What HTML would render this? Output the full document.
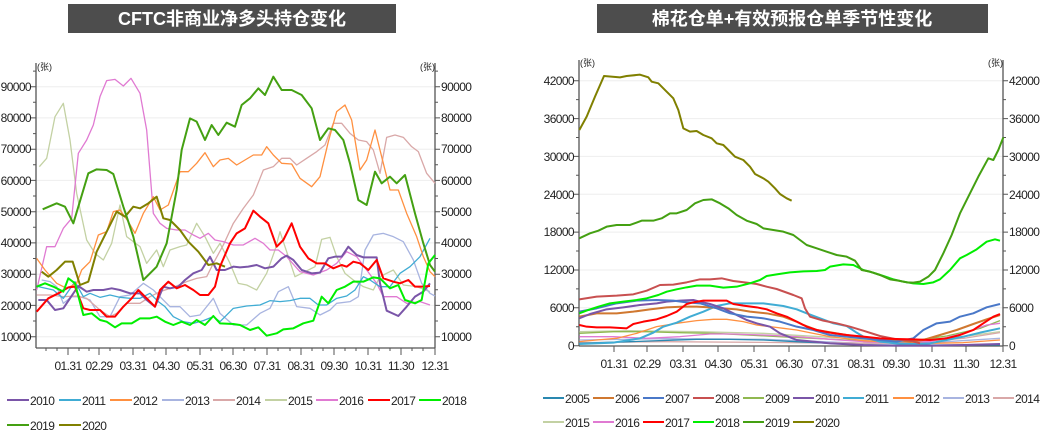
<!DOCTYPE html>
<html><head><meta charset="utf-8"><style>
body{margin:0;background:#fff;width:1043px;height:437px;overflow:hidden}
svg{display:block}
text{font-family:"Liberation Sans","Noto Sans CJK SC",sans-serif;fill:#222}
.t{font-size:12px;letter-spacing:-0.6px}
.g polyline{fill:none;vector-effect:non-scaling-stroke;stroke-linejoin:round;stroke-width:1.3}
.thick{stroke-width:2!important}
</style></head><body>
<svg width="1043" height="437" viewBox="0 0 1043 437">
<!-- titles -->
<rect x="68" y="4" width="328" height="29" fill="#4d4d4d"/>
<text x="232" y="25" text-anchor="middle" style="fill:#fff;font-weight:bold;font-size:18px">CFTC非商业净多头持仓变化</text>
<rect x="597" y="4" width="391" height="29" fill="#4d4d4d"/>
<text x="792" y="25" text-anchor="middle" style="fill:#fff;font-weight:bold;font-size:18px">棉花仓单+有效预报仓单季节性变化</text>

<!-- LEFT CHART -->
<g stroke="#eee" stroke-width="1">
<line x1="36" x2="435" y1="86.7" y2="86.7"/><line x1="36" x2="435" y1="117.9" y2="117.9"/><line x1="36" x2="435" y1="149.2" y2="149.2"/><line x1="36" x2="435" y1="180.4" y2="180.4"/><line x1="36" x2="435" y1="211.7" y2="211.7"/><line x1="36" x2="435" y1="242.9" y2="242.9"/><line x1="36" x2="435" y1="274.2" y2="274.2"/><line x1="36" x2="435" y1="305.4" y2="305.4"/><line x1="36" x2="435" y1="336.7" y2="336.7"/>
</g>
<g stroke="#555" stroke-width="1.3">
<line x1="36" y1="63" x2="36" y2="348"/><line x1="435" y1="63" x2="435" y2="348"/><line x1="36" y1="348" x2="435" y2="348"/>
</g>
<g stroke="#555" stroke-width="1">
<path d="M31 86.7h5M31 117.9h5M31 149.2h5M31 180.4h5M31 211.7h5M31 242.9h5M31 274.2h5M31 305.4h5M31 336.7h5"/>
<path d="M435 86.7h5M435 117.9h5M435 149.2h5M435 180.4h5M435 211.7h5M435 242.9h5M435 274.2h5M435 305.4h5M435 336.7h5"/>
<path d="M68 348v7M99 348v7M133 348v7M166 348v7M200 348v7M233 348v7M267 348v7M301 348v7M334 348v7M368 348v7M401 348v7M435 348v7"/>
<path d="M46 348v3M57 348v3M79 348v3M89 348v3M110 348v3M121 348v3M144 348v3M155 348v3M177 348v3M188 348v3M211 348v3M222 348v3M244 348v3M255 348v3M278 348v3M290 348v3M312 348v3M323 348v3M345 348v3M356 348v3M379 348v3M390 348v3M412 348v3M423 348v3"/>
<path d="M36 71.1h-3M36 102.3h-3M36 133.6h-3M36 164.8h-3M36 196h-3M36 227.3h-3M36 258.5h-3M36 289.8h-3M36 321h-3M435 71.1h3M435 102.3h3M435 133.6h3M435 164.8h3M435 196h3M435 227.3h3M435 258.5h3M435 289.8h3M435 321h3"/>
</g>
<g class="t" text-anchor="end">
<text x="31" y="91">90000</text><text x="31" y="122">80000</text><text x="31" y="153">70000</text><text x="31" y="185">60000</text><text x="31" y="216">50000</text><text x="31" y="247">40000</text><text x="31" y="278">30000</text><text x="31" y="310">20000</text><text x="31" y="341">10000</text>
</g>
<g class="t">
<text x="441" y="91">90000</text><text x="441" y="122">80000</text><text x="441" y="153">70000</text><text x="441" y="185">60000</text><text x="441" y="216">50000</text><text x="441" y="247">40000</text><text x="441" y="278">30000</text><text x="441" y="310">20000</text><text x="441" y="341">10000</text>
</g>
<text x="37" y="70" style="font-size:9px">(张)</text><text x="420" y="70" style="font-size:9px">(张)</text>
<g class="t" text-anchor="middle">
<text x="68" y="370">01.31</text><text x="99" y="370">02.29</text><text x="133" y="370">03.31</text><text x="166" y="370">04.30</text><text x="200" y="370">05.31</text><text x="233" y="370">06.30</text><text x="267" y="370">07.31</text><text x="301" y="370">08.31</text><text x="334" y="370">09.30</text><text x="368" y="370">10.31</text><text x="401" y="370">11.30</text><text x="435" y="370">12.31</text>
</g>
<g class="g" transform="translate(0,50) scale(0.33333)">
<polyline stroke="#c3d1a3" points="118,350 140,325 165,200 190,160 210,270 230,430 260,570 285,610 310,630 335,580 360,465 380,560 420,590 440,640 470,600 490,650 510,600 540,590 560,585 590,520 615,560 640,610 660,580 690,640 715,700 740,705 770,720 800,670 825,600 840,545 855,590 885,680 915,665 945,650 965,568 990,562 1010,620 1035,670 1060,690 1090,710 1120,720 1140,680 1180,660 1210,705 1250,710 1290,725"/>
<polyline stroke="#a8b4e0" points="125,690 150,695 170,710 190,760 215,740 240,740 270,750 300,800 330,800 360,740 390,735 430,700 460,720 480,740 510,770 540,770 570,800 600,795 640,745 660,790 700,825 740,825 780,790 810,775 835,725 865,710 890,770 930,775 960,795 990,780 1010,760 1050,755 1075,740 1095,600 1120,555 1150,550 1180,560 1210,575 1240,630 1265,700 1290,730 1305,738"/>
<polyline stroke="#d9a8a8" points="110,735 150,735 190,740 230,738 260,745 300,780 330,800 350,790 380,760 420,760 450,740 480,725 520,712 560,695 590,685 620,680 640,640 670,585 700,520 730,475 760,435 790,360 820,350 845,325 870,325 890,345 920,325 950,305 975,285 1000,220 1025,220 1050,250 1075,270 1100,275 1120,300 1140,370 1160,262 1185,255 1210,262 1235,290 1255,305 1280,370 1305,400"/>
<polyline stroke="#e07ad2" points="110,720 140,590 165,590 190,535 215,505 235,310 260,270 280,225 300,140 320,92 345,88 370,108 393,85 420,130 440,240 460,490 480,520 500,535 530,540 555,540 580,555 600,565 625,550 645,570 670,575 700,585 730,585 765,565 790,580 810,600 835,600 860,620 900,665 940,675 980,660 1010,640 1040,605 1070,620 1100,660 1130,700 1150,740 1190,740 1220,760 1260,755 1290,765"/>
<polyline stroke="#40acd4" points="115,710 160,720 190,745 225,695 250,740 270,730 300,742 330,735 360,742 390,745 420,745 450,730 475,755 495,770 520,800 550,815 580,820 610,812 640,800 660,815 700,775 740,768 780,765 810,752 840,755 870,752 900,745 930,745 955,765 980,765 1010,745 1040,738 1065,720 1090,680 1110,690 1140,710 1170,710 1200,670 1230,650 1260,620 1290,565"/>
<polyline stroke="#ff9040" points="110,625 135,660 170,700 200,715 230,700 245,660 270,635 295,555 320,545 340,485 360,480 385,515 405,550 430,490 460,440 480,480 505,465 540,365 565,365 590,340 615,308 640,350 660,330 685,325 710,345 735,330 760,315 785,315 800,290 820,315 845,340 875,342 900,385 935,410 960,380 985,275 1010,185 1035,165 1055,210 1080,360 1100,330 1125,240 1150,340 1170,420 1195,420 1220,490 1250,560 1270,620 1290,665 1305,680"/>
<polyline class="thick" stroke="#7a55a8" points="115,750 140,750 165,780 190,775 210,745 235,708 260,725 280,720 310,720 335,715 360,720 390,730 420,730 440,750 465,770 490,710 510,715 535,710 555,690 580,670 605,660 630,620 650,660 675,660 700,650 720,652 745,650 770,645 795,655 820,650 845,625 860,617 880,630 905,660 935,670 960,668 985,625 1005,620 1025,620 1045,590 1070,615 1090,622 1130,622 1140,700 1160,782 1195,798 1220,770 1245,740 1270,725 1290,700"/>
<polyline class="thick" stroke="#808000" points="125,665 145,680 170,660 195,635 218,635 240,705 265,695 290,605 320,545 350,485 375,500 400,470 420,475 445,460 470,440 490,505 510,510 540,540 565,575 595,605 625,645 650,640 675,650"/>
<polyline class="thick" stroke="#44a012" points="128,478 170,460 195,470 220,520 265,370 290,358 320,360 340,372 370,470 400,560 430,690 470,650 500,580 530,420 545,300 570,205 590,215 615,270 635,225 655,255 680,218 705,230 725,165 750,145 775,115 795,135 820,80 845,120 875,120 905,135 935,175 960,270 985,235 1005,240 1030,270 1050,340 1075,450 1100,465 1125,365 1145,400 1170,380 1190,400 1215,375 1245,490 1270,580 1290,645 1305,665"/>
<polyline class="thick" stroke="#ff0000" points="110,785 145,745 175,730 205,712 225,710 250,775 270,780 300,780 320,800 345,800 370,770 395,745 415,720 440,745 465,770 480,720 505,695 530,715 555,705 580,720 600,735 625,735 645,710 660,650 690,580 710,550 735,535 760,482 780,500 805,520 830,590 850,570 875,520 900,590 925,625 950,640 975,640 1000,655 1025,645 1040,650 1060,635 1080,640 1105,660 1130,630 1150,685 1180,695 1200,700 1225,690 1245,710 1265,710 1290,708"/>
<polyline class="thick" stroke="#00ee00" points="110,710 135,700 160,710 190,725 205,685 225,700 250,795 275,790 300,810 320,815 345,832 365,820 395,820 420,805 450,805 470,800 495,815 520,825 545,815 570,825 590,810 615,825 640,798 660,820 700,822 720,825 750,840 775,832 800,857 830,850 850,838 880,835 910,820 940,812 965,740 985,760 1010,720 1035,710 1060,695 1090,695 1120,682 1140,685 1170,715 1195,705 1215,750 1245,760 1265,750 1285,640 1305,615"/>
</g>
<!-- left legend -->
<g stroke-width="2">
<line x1="7" x2="29" y1="400" y2="400" stroke="#7a55a8"/><line x1="59" x2="81" y1="400" y2="400" stroke="#40acd4"/><line x1="110" x2="132" y1="400" y2="400" stroke="#ff9040"/><line x1="162" x2="184" y1="400" y2="400" stroke="#a8b4e0"/><line x1="213" x2="235" y1="400" y2="400" stroke="#d9a8a8"/><line x1="265" x2="287" y1="400" y2="400" stroke="#c3d1a3"/><line x1="316" x2="338" y1="400" y2="400" stroke="#e07ad2"/><line x1="368" x2="390" y1="400" y2="400" stroke="#ff0000"/><line x1="419" x2="441" y1="400" y2="400" stroke="#00ee00"/>
<line x1="7" x2="29" y1="425" y2="425" stroke="#44a012"/><line x1="59" x2="81" y1="425" y2="425" stroke="#808000"/>
</g>
<g class="t">
<text x="30" y="405">2010</text><text x="82" y="405">2011</text><text x="133" y="405">2012</text><text x="185" y="405">2013</text><text x="236" y="405">2014</text><text x="288" y="405">2015</text><text x="339" y="405">2016</text><text x="391" y="405">2017</text><text x="442" y="405">2018</text>
<text x="30" y="430">2019</text><text x="82" y="430">2020</text>
</g>

<!-- RIGHT CHART -->
<g stroke="#eee" stroke-width="1">
<line x1="579" x2="1003" y1="80.7" y2="80.7"/><line x1="579" x2="1003" y1="118.6" y2="118.6"/><line x1="579" x2="1003" y1="156.4" y2="156.4"/><line x1="579" x2="1003" y1="194.3" y2="194.3"/><line x1="579" x2="1003" y1="232.1" y2="232.1"/><line x1="579" x2="1003" y1="270" y2="270"/><line x1="579" x2="1003" y1="307.8" y2="307.8"/>
</g>
<g stroke="#555" stroke-width="1.3">
<line x1="579" y1="60" x2="579" y2="346"/><line x1="1003" y1="60" x2="1003" y2="346"/><line x1="579" y1="346" x2="1003" y2="346"/>
</g>
<g stroke="#555" stroke-width="1">
<path d="M574 80.7h5M574 118.6h5M574 156.4h5M574 194.3h5M574 232.1h5M574 270h5M574 307.8h5M574 345.7h5"/>
<path d="M1003 80.7h5M1003 118.6h5M1003 156.4h5M1003 194.3h5M1003 232.1h5M1003 270h5M1003 307.8h5M1003 345.7h5"/>
<path d="M614 346v6M647 346v6M683 346v6M718 346v6M754 346v6M789 346v6M825 346v6M861 346v6M896 346v6M932 346v6M966 346v6M1003 346v6"/>
<path d="M579 99.6h-3M579 137.5h-3M579 175.3h-3M579 213.2h-3M579 251h-3M579 288.9h-3M579 326.8h-3M1003 99.6h3M1003 137.5h3M1003 175.3h3M1003 213.2h3M1003 251h3M1003 288.9h3M1003 326.8h3"/>
</g>
<g class="t" text-anchor="end">
<text x="574" y="85">42000</text><text x="574" y="123">36000</text><text x="574" y="161">30000</text><text x="574" y="199">24000</text><text x="574" y="236">18000</text><text x="574" y="274">12000</text><text x="574" y="312">6000</text><text x="574" y="350">0</text>
</g>
<g class="t">
<text x="1009" y="85">42000</text><text x="1009" y="123">36000</text><text x="1009" y="161">30000</text><text x="1009" y="199">24000</text><text x="1009" y="236">18000</text><text x="1009" y="274">12000</text><text x="1009" y="312">6000</text><text x="1009" y="350">0</text>
</g>
<text x="580" y="66" style="font-size:9px">(张)</text><text x="988" y="66" style="font-size:9px">(张)</text>
<g class="t" text-anchor="middle">
<text x="614" y="368">01.31</text><text x="647" y="368">02.29</text><text x="683" y="368">03.31</text><text x="718" y="368">04.30</text><text x="754" y="368">05.31</text><text x="789" y="368">06.30</text><text x="825" y="368">07.31</text><text x="861" y="368">08.31</text><text x="896" y="368">09.30</text><text x="932" y="368">10.31</text><text x="966" y="368">11.30</text><text x="1003" y="368">12.31</text>
</g>
<g class="g" transform="translate(530,50) scale(0.33333)">
<polyline stroke="#c3d1a3" points="148,845 300,842 500,845 700,850 900,862 1100,875 1300,860 1410,845"/>
<polyline stroke="#a8b4e0" points="148,870 400,866 700,868 1000,880 1200,878 1410,865"/>
<polyline stroke="#d9a8a8" points="148,878 400,875 800,878 1100,880 1300,865 1410,848"/>
<polyline stroke="#2a88b0" points="148,880 300,875 500,868 600,868 700,870 800,875 900,880 1000,885 1410,885"/>
<polyline stroke="#90b850" points="148,850 250,845 350,845 450,848 550,850 650,855 750,860 850,865 950,870 1050,875 1150,872 1250,858 1350,835 1410,812"/>
<polyline stroke="#e07ad2" points="148,860 250,860 350,865 450,860 540,852 600,852 700,855 800,860 900,868 1000,875 1100,878 1200,875 1300,850 1370,825 1410,820"/>
<polyline stroke="#ff9040" points="148,875 200,870 260,865 320,850 380,830 440,820 500,812 550,808 590,808 640,815 680,825 720,830 760,835 800,840 850,850 900,860 1000,872 1100,878 1200,880 1300,878 1410,870"/>
<polyline class="thick" stroke="#40acd4" points="148,882 250,878 330,865 370,848 400,830 440,818 480,800 520,785 560,768 600,760 650,760 700,760 760,768 800,778 830,790 870,805 910,820 950,828 980,848 1000,860 1050,875 1100,880 1150,882 1200,880 1250,870 1300,860 1350,848 1410,835"/>
<polyline class="thick" stroke="#d07830" points="148,800 200,790 260,790 310,785 360,778 410,772 460,770 500,770 540,772 580,775 620,778 660,785 710,790 760,800 800,815 820,825 860,840 920,850 980,860 1040,865 1100,870 1140,875 1180,870 1230,855 1280,840 1330,822 1370,808 1410,795"/>
<polyline class="thick" stroke="#7a55a8" points="148,805 180,792 230,778 280,772 330,765 380,760 410,755 450,752 490,750 510,755 540,762 580,775 610,790 650,810 680,820 720,830 750,850 800,870 850,875 900,880 1000,885 1100,887 1200,887 1300,885 1410,882"/>
<polyline class="thick" stroke="#4a78c8" points="148,785 200,775 260,760 320,752 380,750 430,752 470,757 510,760 560,775 600,790 650,800 700,805 750,815 800,830 850,840 900,855 950,860 1000,865 1050,870 1100,875 1150,865 1180,840 1220,820 1260,815 1290,800 1330,790 1370,772 1410,762"/>
<polyline class="thick" stroke="#c85050" points="148,748 200,740 260,737 310,733 350,722 390,705 430,704 470,697 510,688 540,688 575,685 610,693 650,698 680,702 710,710 740,717 790,735 815,745 825,775 840,800 880,812 920,820 960,830 1000,842 1050,858 1100,868 1140,872 1170,880"/>
<polyline class="thick" stroke="#ff0000" points="148,825 170,830 200,832 240,832 290,835 310,822 340,815 380,808 410,798 440,785 470,762 490,757 520,752 560,752 590,752 610,762 640,767 680,772 710,778 740,790 770,800 800,815 830,830 860,840 900,848 950,855 1000,860 1050,865 1100,867 1150,868 1200,870 1250,865 1290,855 1330,840 1360,820 1390,800 1410,792"/>
<polyline class="thick" stroke="#00ee00" points="148,790 175,780 205,770 240,760 280,755 320,750 350,745 385,735 410,725 440,718 470,712 500,707 540,707 580,713 620,710 660,700 690,690 710,678 740,673 780,667 820,664 860,663 885,660 900,650 940,643 970,645 1000,660 1030,668 1060,678 1090,688 1120,695 1150,700 1180,702 1210,697 1230,688 1260,660 1290,625 1310,615 1340,598 1370,575 1395,568 1410,572"/>
<polyline class="thick" stroke="#44a012" points="148,565 180,550 205,542 230,530 260,525 300,525 335,512 370,512 395,505 420,490 440,490 470,480 495,460 520,450 545,448 570,460 595,475 620,495 650,512 680,522 700,535 730,540 760,545 790,555 810,570 830,585 860,595 890,605 920,615 950,620 975,632 995,660 1020,665 1050,675 1080,688 1105,692 1130,697 1150,698 1170,695 1195,680 1215,660 1240,610 1265,555 1290,490 1320,430 1345,380 1375,325 1390,330 1405,300 1420,262"/>
<polyline class="thick" stroke="#808000" points="148,240 170,200 195,140 222,78 270,82 290,78 330,74 355,82 365,95 385,100 410,125 430,145 445,180 460,235 480,245 500,243 520,255 545,265 560,280 580,285 595,300 615,320 640,330 660,350 675,372 700,385 715,395 735,415 750,432 770,445 785,452"/>
</g>
<!-- right legend -->
<g stroke-width="2">
<line x1="543" x2="564" y1="398" y2="398" stroke="#2a88b0"/><line x1="593" x2="614" y1="398" y2="398" stroke="#d07830"/><line x1="643" x2="664" y1="398" y2="398" stroke="#4a78c8"/><line x1="693" x2="714" y1="398" y2="398" stroke="#c85050"/><line x1="743" x2="764" y1="398" y2="398" stroke="#90b850"/><line x1="793" x2="814" y1="398" y2="398" stroke="#7a55a8"/><line x1="843" x2="864" y1="398" y2="398" stroke="#40acd4"/><line x1="893" x2="914" y1="398" y2="398" stroke="#ff9040"/><line x1="943" x2="964" y1="398" y2="398" stroke="#a8b4e0"/><line x1="993" x2="1014" y1="398" y2="398" stroke="#d9a8a8"/>
<line x1="543" x2="564" y1="422" y2="422" stroke="#c3d1a3"/><line x1="593" x2="614" y1="422" y2="422" stroke="#e07ad2"/><line x1="643" x2="664" y1="422" y2="422" stroke="#ff0000"/><line x1="693" x2="714" y1="422" y2="422" stroke="#00ee00"/><line x1="743" x2="764" y1="422" y2="422" stroke="#44a012"/><line x1="793" x2="814" y1="422" y2="422" stroke="#808000"/>
</g>
<g class="t">
<text x="565" y="403">2005</text><text x="615" y="403">2006</text><text x="665" y="403">2007</text><text x="715" y="403">2008</text><text x="765" y="403">2009</text><text x="815" y="403">2010</text><text x="865" y="403">2011</text><text x="915" y="403">2012</text><text x="965" y="403">2013</text><text x="1015" y="403">2014</text>
<text x="565" y="427">2015</text><text x="615" y="427">2016</text><text x="665" y="427">2017</text><text x="715" y="427">2018</text><text x="765" y="427">2019</text><text x="815" y="427">2020</text>
</g>
</svg>
</body></html>
